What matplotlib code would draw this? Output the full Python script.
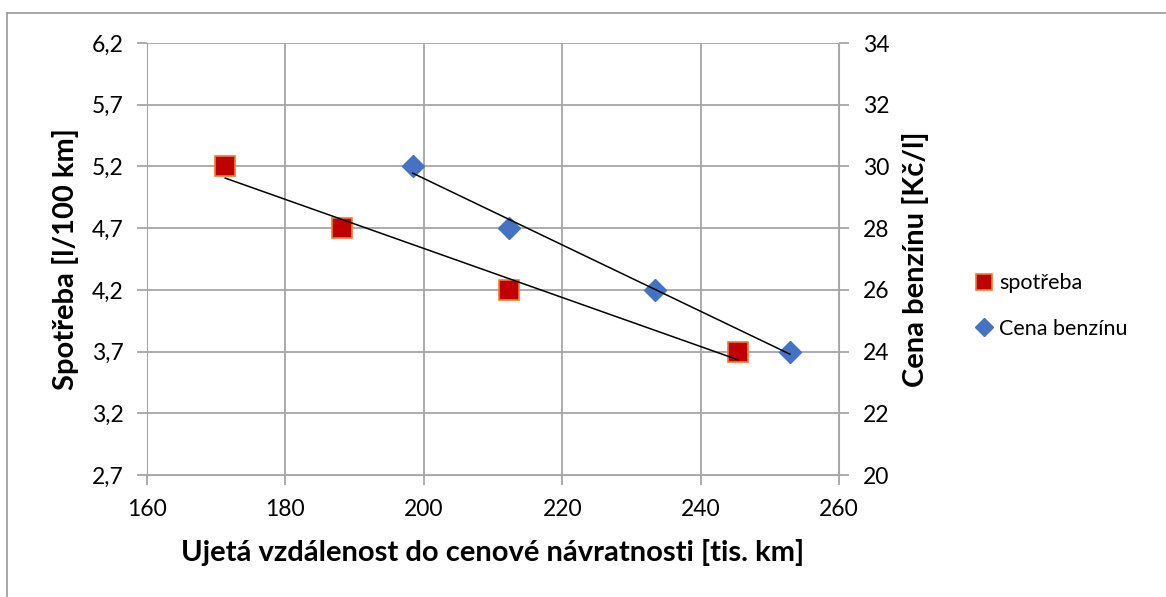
import numpy as np
import matplotlib.pyplot as plt
from matplotlib.lines import Line2D

plt.rcParams['font.family'] = ['Lato', 'DejaVu Sans']

# data
spotreba_x = [171.3, 188.2, 212.3, 245.4]
spotreba_y = [5.2, 4.7, 4.2, 3.7]
cena_x = [198.4, 212.3, 233.4, 252.9]
cena_y = [30, 28, 26, 24]

left_ticks = [2.7, 3.2, 3.7, 4.2, 4.7, 5.2, 5.7, 6.2]
right_ticks = [20, 22, 24, 26, 28, 30, 32, 34]
x_ticks = [160, 180, 200, 220, 240, 260]

grid_c = '#A6A6A6'

fig = plt.figure(figsize=(11.66, 5.97), dpi=100)
ax = fig.add_axes([147/1166, 1-475/597, (839-147)/1166, (475-43)/597])
ax2 = ax.twinx()

ax.set_xlim(160, 260)
ax.set_ylim(2.7, 6.2)
ax2.set_ylim(20, 34)
ax.set_xticks(x_ticks)
ax.set_yticks(left_ticks)
ax.set_yticklabels([f'{v:.1f}'.replace('.', ',') for v in left_ticks])
ax2.set_yticks(right_ticks)

ax.grid(True, color=grid_c, lw=1.3)
ax.set_axisbelow(True)
for a in (ax, ax2):
    for s in a.spines.values():
        s.set_visible(False)
    a.tick_params(length=7, color=grid_c, width=1.3, labelsize=16.5, pad=10)
ax.spines['left'].set_visible(True)
ax.spines['left'].set_color(grid_c)
ax.spines['bottom'].set_visible(True)
ax.spines['bottom'].set_color(grid_c)
ax2.spines['right'].set_visible(True)
ax2.spines['right'].set_color(grid_c)

# markers
s1, = ax.plot(spotreba_x, spotreba_y, ls='none', marker='s', ms=15,
              mfc='#C00000', mec='#ED7D31', mew=1.2, zorder=3, label='spotřeba')
s2, = ax2.plot(cena_x, cena_y, ls='none', marker='D', ms=11,
               mfc='#4472C4', mec='#4472C4', zorder=3, label='Cena benzínu')

# linear trend lines
k, q = np.polyfit(spotreba_x, spotreba_y, 1)
xx = np.array([min(spotreba_x), max(spotreba_x)])
ax.plot(xx, k*xx+q, color='black', lw=1.1, zorder=4)
k, q = np.polyfit(cena_x, cena_y, 1)
xx = np.array([min(cena_x), max(cena_x)])
ax2.plot(xx, k*xx+q, color='black', lw=1.1, zorder=4)

ax.set_xlabel('Ujetá vzdálenost do cenové návratnosti [tis. km]', fontsize=21,
              fontweight='bold', labelpad=14)
ax.set_ylabel('Spotřeba [l/100 km]', fontsize=21, fontweight='bold', labelpad=9)
ax2.set_ylabel('Cena benzínu [Kč/l]', fontsize=21, fontweight='bold', labelpad=9)

fig.legend(handles=[s1, s2], loc='center left', bbox_to_anchor=(952/1166, 1-306/597),
           frameon=False, fontsize=15.5, handletextpad=0.1, labelspacing=1.2,
           markerscale=0.8, handlelength=1.2)

# chart border
fig.add_artist(Line2D([7/1166, 7/1166], [0, 1-13/597], color='#A0A0A0', lw=1.3))
fig.add_artist(Line2D([7/1166, 1], [1-13/597, 1-13/597], color='#A0A0A0', lw=1.3))

fig.savefig('out.png', dpi=100)
